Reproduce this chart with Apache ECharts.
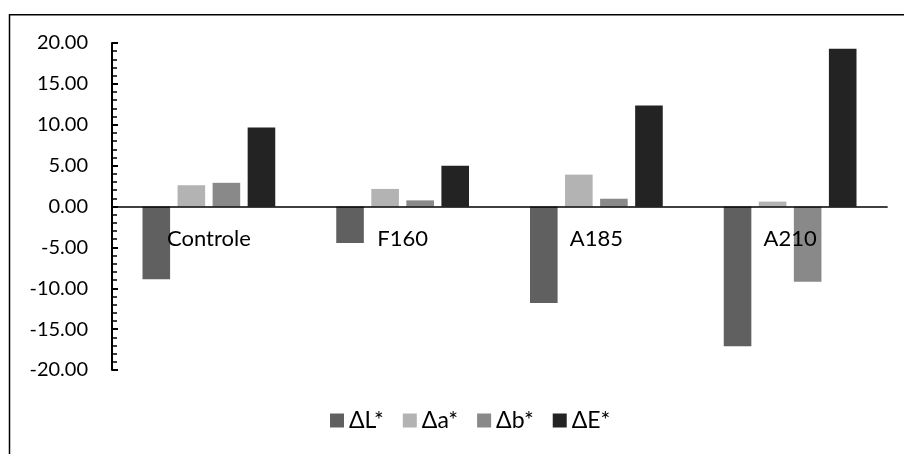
<!DOCTYPE html>
<html>
<head>
<meta charset="utf-8">
<script src="https://cdn.jsdelivr.net/npm/echarts@6/dist/echarts.min.js"></script>
<style>
  html, body { margin: 0; padding: 0; background: #fff; }
  #chart { width: 904px; height: 454px; }
</style>
</head>
<body>
<div id="chart"></div>
<script>
// Colour differences per sample
const categories = ['Controle', 'F160', 'A185', 'A210'];
const seriesNames = ['ΔL*', 'Δa*', 'Δb*', 'ΔE*'];
const deltaL = [-8.9, -4.45, -11.8, -17.1];
const deltaA = [2.6, 2.15, 3.9, 0.6];
const deltaB = [2.9, 0.75, 0.95, -9.2];
const deltaE = [9.65, 5.0, 12.35, 19.3];
const yMin = -20, yMax = 20, yStep = 5;

const colors = ['#606060', '#b3b3b3', '#898989', '#232323'];
const values = [deltaL, deltaA, deltaB, deltaE];
const FONT = 'Lato';

const GRID_TOP = 43, GRID_BOTTOM = 84, HEIGHT = 454;

const chart = echarts.init(document.getElementById('chart'), null, { renderer: 'canvas' });

// Category labels sit just under the zero line rather than at the plot bottom
const plotHeight = HEIGHT - GRID_TOP - GRID_BOTTOM;
const zeroOffset = plotHeight * (0 - yMin) / (yMax - yMin);

chart.setOption({
  animation: false,
  backgroundColor: '#fff',
  textStyle: { fontFamily: FONT },
  graphic: [{
    type: 'rect',
    shape: { x: 9.5, y: 14.75, width: 1000, height: 1000 },
    style: { fill: 'none', stroke: '#000', lineWidth: 1.5 },
    silent: true
  }],
  grid: { left: 112, right: 17, top: GRID_TOP, bottom: GRID_BOTTOM, containLabel: false },
  legend: {
    data: seriesNames,
    left: 330,
    top: 409,
    padding: 0,
    itemWidth: 14,
    itemHeight: 14,
    itemGap: 19,
    icon: 'rect',
    textStyle: { fontFamily: FONT, fontSize: 23, color: '#000' }
  },
  xAxis: {
    type: 'category',
    data: categories,
    z: 5,
    axisLine: { onZero: true, lineStyle: { color: '#000', width: 1.7 } },
    axisTick: { show: false },
    axisLabel: { color: '#000', fontSize: 22, fontFamily: FONT, margin: 21 - zeroOffset },
    splitLine: { show: false }
  },
  yAxis: {
    type: 'value',
    min: yMin,
    max: yMax,
    interval: yStep,
    axisLine: { show: true, lineStyle: { color: '#000', width: 2 } },
    axisTick: { show: true, inside: true, length: 6, lineStyle: { color: '#000', width: 2 } },
    minorTick: { show: true, splitNumber: 5, length: 5, lineStyle: { color: '#000', width: 1.5 } },
    axisLabel: {
      color: '#000', fontSize: 20, fontFamily: FONT, margin: 24,
      formatter: v => v.toFixed(2)
    },
    splitLine: { show: false }
  },
  series: seriesNames.map((name, i) => ({
    name,
    type: 'bar',
    data: values[i],
    barWidth: 27.6,
    barGap: '27%',
    itemStyle: { color: colors[i] }
  }))
});
</script>
</body>
</html>
